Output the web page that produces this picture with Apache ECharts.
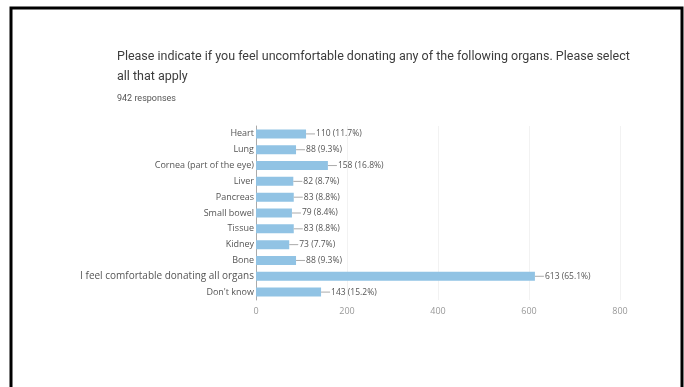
<!DOCTYPE html>
<html>
<head>
<meta charset="utf-8">
<script src="https://cdn.jsdelivr.net/npm/echarts@6/dist/echarts.min.js"></script>
<style>
  html, body { margin: 0; padding: 0; background: #fff; }
  #chart { width: 684px; height: 387px; }
</style>
</head>
<body>
<div id="chart"></div>
<script>
// Survey answers, top to bottom as listed in the form
const categories = [
  'Heart', 'Lung', 'Cornea (part of the eye)', 'Liver', 'Pancreas',
  'Small bowel', 'Tissue', 'Kidney', 'Bone',
  'I feel comfortable donating all organs', "Don't know"
];
const counts = [110, 88, 158, 82, 83, 79, 83, 73, 88, 613, 143];
const percents = ['11.7', '9.3', '16.8', '8.7', '8.8', '8.4', '8.8', '7.7', '9.3', '65.1', '15.2'];
const totalResponses = 942;
const xTicks = [0, 200, 400, 600, 800];

const chart = echarts.init(document.getElementById('chart'));

chart.setOption({
  animation: false,
  backgroundColor: '#fff',
  graphic: [
    {
      type: 'rect',
      shape: { x: 11, y: 8, width: 671, height: 420 },
      style: { fill: 'none', stroke: '#000', lineWidth: 3 },
      silent: true
    },
    {
      type: 'text',
      left: 117,
      top: 47,
      style: {
        text: 'Please indicate if you feel uncomfortable donating any of the following organs. Please select\nall that apply',
        font: '12.5px Roboto',
        lineHeight: 20,
        fill: '#3c3c3c'
      }
    },
    {
      type: 'text',
      left: 117,
      top: 94,
      style: {
        text: totalResponses + ' responses',
        font: '9px Roboto',
        fill: '#555'
      }
    }
  ],
  grid: { left: 256, right: 64, top: 126, bottom: 87, containLabel: false },
  xAxis: {
    type: 'value',
    min: xTicks[0],
    max: xTicks[xTicks.length - 1],
    interval: xTicks[1] - xTicks[0],
    axisLine: { show: false },
    axisTick: { show: false },
    splitLine: { show: true, lineStyle: { color: '#f2f2f2', width: 1 } },
    axisLabel: { color: '#999', fontSize: 9, fontFamily: 'Open Sans', margin: 7 }
  },
  yAxis: {
    type: 'category',
    data: categories,
    inverse: true,
    axisLine: { show: true, lineStyle: { color: '#aaa', width: 1 } },
    axisTick: { show: false },
    axisLabel: {
      color: '#555',
      fontSize: 9,
      fontFamily: 'Open Sans',
      margin: 2,
      formatter: v => v.length > 30 ? '{wide|' + v + '}' : v,
      rich: {
        wide: { color: '#555', fontSize: 10, fontFamily: 'Open Sans' }
      }
    }
  },
  series: [{
    type: 'bar',
    data: counts,
    barWidth: 9,
    itemStyle: { color: '#91c3e4' },
    label: {
      show: true,
      position: 'right',
      distance: 0,
      formatter: p => '{d|}{t|' + counts[p.dataIndex] + ' (' + percents[p.dataIndex] + '%)}',
      rich: {
        d: { width: 9, height: 1, backgroundColor: '#aaa' },
        t: { color: '#555', fontSize: 8.5, fontFamily: 'Open Sans', padding: [0, 0, 0, 1] }
      }
    }
  }]
});
</script>
</body>
</html>
